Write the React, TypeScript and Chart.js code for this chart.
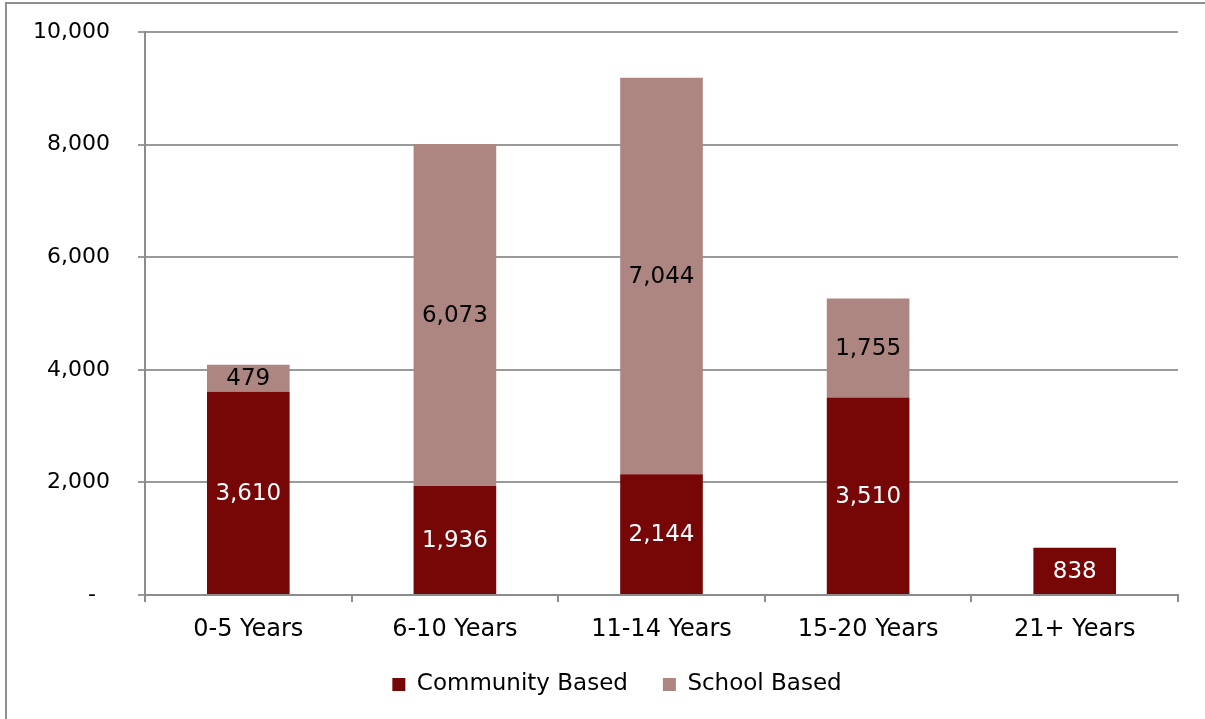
import React, { useEffect, useRef } from "react";
import { Chart, registerables } from "chart.js";

Chart.register(...registerables);

const categories = ["0-5 Years", "6-10 Years", "11-14 Years", "15-20 Years", "21+ Years"];
const communityBased = [3610, 1936, 2144, 3510, 838];
const schoolBased = [479, 6073, 7044, 1755, null];
const yTicks = [0, 2000, 4000, 6000, 8000, 10000];

const FONT = "'DejaVu Sans', sans-serif";

const valueLabels = {
  id: "valueLabels",
  afterDatasetsDraw(chart: any) {
    const ctx = chart.ctx;
    ctx.save();
    ctx.font = `23px ${FONT}`;
    ctx.textAlign = "center";
    ctx.textBaseline = "middle";
    chart.data.datasets.forEach((ds: any, di: number) => {
      const meta = chart.getDatasetMeta(di);
      meta.data.forEach((el: any, i: number) => {
        const v = ds.data[i];
        if (v === null || v === undefined || v === 0) return;
        ctx.fillStyle = ds.labelColor;
        const y = (el.y + el.base) / 2 + 1;
        ctx.fillText(Number(v).toLocaleString("en-US"), el.x, y);
      });
    });
    ctx.restore();
  },
};

const legendShift = {
  id: "legendShift",
  afterLayout(chart: any) {
    if (chart.legend) {
      chart.legend.left += 28;
      chart.legend.right += 28;
    }
  },
};

export default function App() {
  const ref = useRef<HTMLCanvasElement>(null);
  useEffect(() => {
    if (!ref.current) return;
    const chart = new Chart(ref.current, {
      type: "bar",
      data: {
        labels: categories,
        datasets: [
          {
            label: "Community Based",
            data: communityBased,
            backgroundColor: "#770707",
            labelColor: "#ffffff",
            categoryPercentage: 1,
            barPercentage: 0.4,
          } as any,
          {
            label: "School Based",
            data: schoolBased,
            backgroundColor: "#AD8581",
            labelColor: "#000000",
            categoryPercentage: 1,
            barPercentage: 0.4,
          } as any,
        ],
      },
      options: {
        responsive: false,
        animation: false,
        layout: { padding: { top: 32, right: 27, left: 0, bottom: 13 } },
        plugins: {
          legend: {
            position: "bottom",
            labels: {
              font: { family: FONT, size: 23 },
              color: "#000",
              boxWidth: 13,
              boxHeight: 13,
              padding: 35,
            },
          },
          tooltip: { enabled: false },
          title: { display: false },
        },
        scales: {
          x: {
            stacked: true,
            grid: {
              display: true,
              drawOnChartArea: false,
              offset: true,
              tickLength: 7,
              color: "#8c8c8c",
              lineWidth: 2,
            },
            border: { display: true, color: "#8c8c8c", width: 2 },
            ticks: {
              font: { family: FONT, size: 24 },
              color: "#000",
              padding: 13,
              maxRotation: 0,
            },
            afterFit(scale: any) {
              scale.height = 43;
            },
          },
          y: {
            stacked: true,
            min: 0,
            max: 10000,
            afterBuildTicks(scale: any) {
              scale.ticks = yTicks.map((v) => ({ value: v }));
            },
            grid: {
              color: "#9a9a9a",
              lineWidth: 2,
              tickLength: 7,
            },
            border: { display: true, color: "#8c8c8c", width: 2 },
            ticks: {
              font: { family: FONT, size: 22 },
              color: "#000",
              padding: 28,
              callback: (v: any) => (Number(v) === 0 ? "-  " : Number(v).toLocaleString("en-US")),
            },
            afterFit(scale: any) {
              scale.width = 145;
              scale.paddingTop = 0;
              scale.paddingBottom = 0;
            },
          },
        },
      },
      plugins: [valueLabels, legendShift],
    });
    return () => chart.destroy();
  }, []);
  return (
    <div style={{ position: "absolute", left: 0, top: 0, width: 1205, height: 719, background: "#fff", overflow: "hidden" }}>
      <canvas ref={ref} width={1205} height={719} style={{ width: 1205, height: 719, display: "block" }} />
      <div
        style={{
          position: "absolute",
          left: 5,
          top: 2,
          width: 1300,
          height: 800,
          borderLeft: "2px solid #8f8f8f",
          borderTop: "2px solid #8f8f8f",
          pointerEvents: "none",
        }}
      />
    </div>
  );
}
